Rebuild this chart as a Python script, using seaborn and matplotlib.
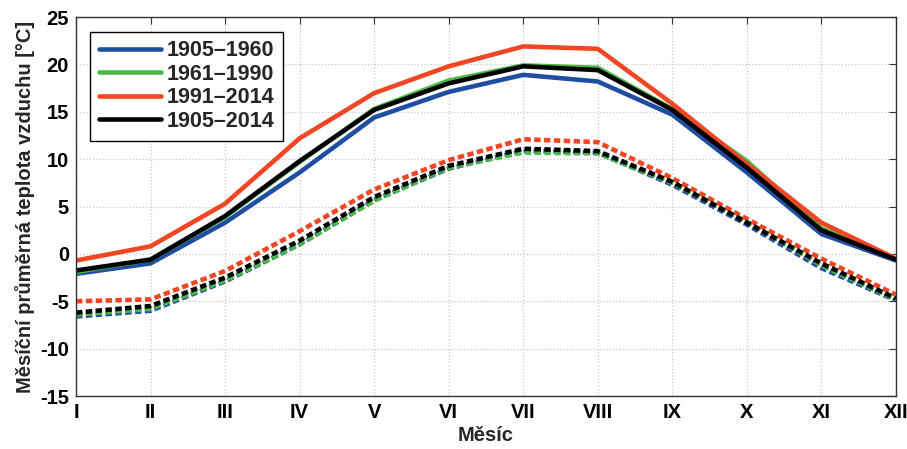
import matplotlib
matplotlib.use("Agg")
import matplotlib.pyplot as plt
import seaborn as sns
import pandas as pd
from matplotlib import font_manager

months = ["I", "II", "III", "IV", "V", "VI", "VII", "VIII", "IX", "X", "XI", "XII"]
periods = ["1905–1960", "1961–1990", "1991–2014", "1905–2014"]
colors = ["#1f4ea1", "#4cb848", "#f04623", "#000000"]

# solid lines
mean_1905_1960 = [-2.1, -1.0, 3.3, 8.6, 14.4, 17.1, 18.9, 18.2, 14.7, 8.6, 2.1, -0.7]
mean_1961_1990 = [-1.9, -0.6, 3.9, 9.7, 15.3, 18.3, 19.9, 19.65, 15.3, 9.8, 2.7, -0.6]
mean_1991_2014 = [-0.7, 0.8, 5.3, 12.2, 16.97, 19.8, 21.9, 21.65, 15.85, 9.5, 3.3, -0.5]
mean_1905_2014 = [-1.75, -0.6, 4.0, 9.8, 15.2, 18.0, 19.8, 19.4, 15.2, 9.1, 2.5, -0.6]
# dotted lines
low_1905_1960 = [-6.6, -6.0, -2.9, 1.0, 5.7, 9.0, 10.9, 10.7, 7.3, 3.1, -1.5, -4.9]
low_1961_1990 = [-6.4, -5.8, -2.8, 1.0, 5.6, 9.1, 10.7, 10.6, 7.5, 3.4, -1.2, -4.8]
low_1991_2014 = [-5.0, -4.8, -1.8, 2.4, 6.8, 9.9, 12.1, 11.8, 8.0, 3.7, -0.5, -4.3]
low_1905_2014 = [-6.2, -5.5, -2.5, 1.4, 6.0, 9.3, 11.1, 10.85, 7.6, 3.3, -1.0, -4.7]

solid = [mean_1905_1960, mean_1961_1990, mean_1991_2014, mean_1905_2014]
dotted = [low_1905_1960, low_1961_1990, low_1991_2014, low_1905_2014]

rows = []
for p, s, d in zip(periods, solid, dotted):
    for i, m in enumerate(months):
        rows.append({"x": i + 1, "period": p, "kind": "solid", "value": s[i]})
        rows.append({"x": i + 1, "period": p, "kind": "dotted", "value": d[i]})
df = pd.DataFrame(rows)

sns.set_theme(style="white")
names = {f.name for f in font_manager.fontManager.ttflist}
main_font = "Liberation Sans" if "Liberation Sans" in names else "DejaVu Sans"
plt.rcParams["font.family"] = [main_font, "DejaVu Sans"]
plt.rcParams["font.weight"] = "bold"

fig = plt.figure(figsize=(9.07, 4.49), dpi=100)
ax = fig.add_axes([0.0838, 0.118, 0.904, 0.844])

for p, c in zip(periods, colors):
    sub = df[(df.period == p) & (df.kind == "dotted")]
    sns.lineplot(data=sub, x="x", y="value", ax=ax, color=c, lw=3.3,
                 linestyle=(0, (1.4, 0.75)), legend=False)
handles = []
for p, c in zip(periods, colors):
    sub = df[(df.period == p) & (df.kind == "solid")]
    sns.lineplot(data=sub, x="x", y="value", ax=ax, color=c, lw=3.3, legend=False)
    handles.append(ax.lines[-1])

ax.set_xlim(1, 12)
ax.set_ylim(-15, 25)
ax.set_xticks(range(1, 13))
ax.set_xticklabels(months, fontsize=14.5, fontweight="bold")
ax.set_yticks(range(-15, 26, 5))
ax.set_yticklabels([str(v) for v in range(-15, 26, 5)], fontsize=14.5, fontweight="bold")
ax.tick_params(direction="in", length=5, top=True, right=True, width=0.8, colors="#333333",
               labelcolor="black", pad=5)
ax.grid(True, color="#c8c8c8", linestyle=":", linewidth=0.9)
for sp in ax.spines.values():
    sp.set_color("#333333")
    sp.set_linewidth(1.0)

ax.set_xlabel("Měsíc", fontsize=14.5, fontweight="bold", labelpad=3)
ax.set_ylabel("Měsíční průměrná teplota vzduchu [°C]", fontsize=14.5, fontweight="bold", labelpad=4)

leg = ax.legend(handles, periods, loc="upper left", bbox_to_anchor=(0.004, 0.99),
                prop={"size": 15.5, "weight": "bold"}, handlelength=2.9, handletextpad=0.25,
                labelspacing=0.12, borderpad=0.4, fancybox=False, framealpha=1,
                edgecolor="black")
leg.get_frame().set_linewidth(1.0)

fig.savefig("out.png", dpi=100)
